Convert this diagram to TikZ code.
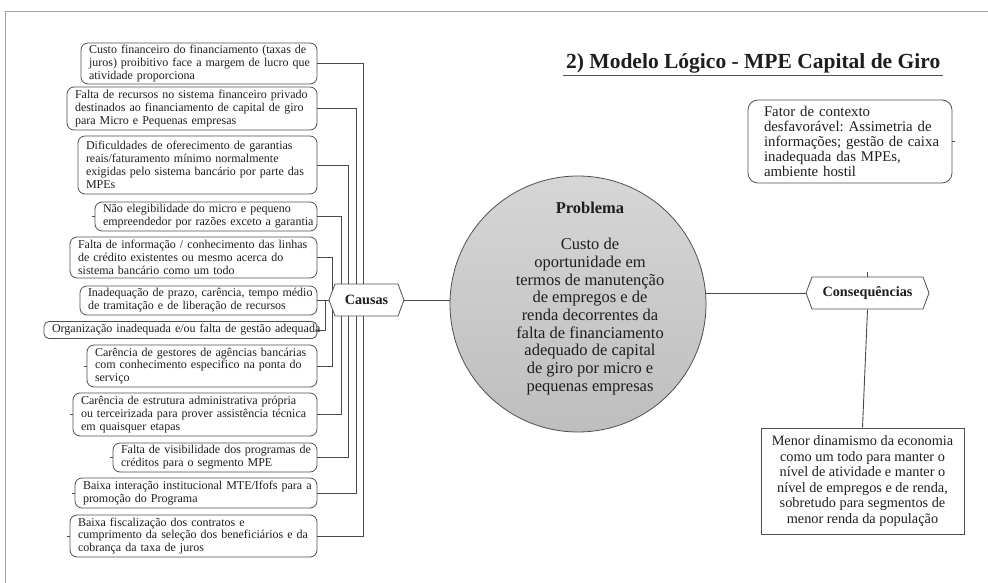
\documentclass[tikz,border=0pt]{standalone}
\usepackage{fontspec}
\setmainfont{Liberation Serif}
\usetikzlibrary{shapes.symbols,backgrounds}
\definecolor{boxc}{HTML}{505050}
\definecolor{linec}{HTML}{4A4A4A}
\definecolor{txtc}{HTML}{1E1E1E}
\definecolor{ctop}{HTML}{D6D6D6}
\definecolor{cbot}{HTML}{BEBEBE}
\definecolor{framec}{HTML}{A0A0A0}
\frenchspacing
\begin{document}
\begin{tikzpicture}[x=1pt,y=-1pt,
  cbox/.style={draw=boxc, line width=0.8pt, rounded corners=7pt, inner xsep=8pt, inner ysep=0pt,
    align=left, text=txtc, font=\fontsize{12}{12.8}\selectfont},
  conn/.style={draw=linec, line width=0.9pt},
  hexa/.style={signal, signal to=west and east, signal pointer angle=139, draw=boxc, fill=white,
    line width=0.8pt, inner sep=0pt, text=txtc, font=\bfseries\fontsize{14.2}{16}\selectfont},
]
\useasboundingbox (0,0) rectangle (988,583);
% frame
\coordinate (fA) at (5,583);
\coordinate (fB) at (5,11);
\coordinate (fC) at (988,11);
\draw[framec, line width=0.8pt] (fA) -- (fB) -- (fC);

% title
\node[anchor=base west, inner xsep=3pt, inner ysep=0pt, text=txtc, font=\bfseries\fontsize{21.5}{24}\selectfont] (title) at (563,69) {2) Modelo Lógico - MPE Capital de Giro};
\draw[boxc, line width=1.3pt] ([yshift=-6.5pt]title.base west) -- ([yshift=-6.5pt]title.base east);

% left boxes
\node[cbox, minimum width=236pt, minimum height=41pt, text width=220pt] (b1) at (199,63.5)
  {\mbox{Custo financeiro do financiamento (taxas de}\\\mbox{juros) proibitivo face a margem de lucro que}\\\mbox{atividade proporciona}};
\node[cbox, minimum width=250pt, minimum height=43pt, text width=234pt] (b2) at (192,108.5)
  {\mbox{Falta de recursos no sistema financeiro privado}\\\mbox{destinados ao financiamento de capital de giro}\\\mbox{para Micro e Pequenas empresas}};
\node[cbox, minimum width=239pt, minimum height=58pt, text width=223pt] (b3) at (197.5,165)
  {\mbox{Dificuldades de oferecimento de garantias}\\\mbox{reais/faturamento mínimo normalmente}\\\mbox{exigidas pelo sistema bancário por parte das}\\\mbox{MPEs}};
\node[cbox, minimum width=222pt, minimum height=29pt, text width=206pt] (b4) at (206,216.5)
  {\mbox{Não elegibilidade do micro e pequeno}\\\mbox{empreendedor por razões exceto a garantia}};
\node[cbox, minimum width=247pt, minimum height=41pt, text width=231pt] (b5) at (193.5,257.5)
  {\mbox{Falta de informação / conhecimento das linhas}\\\mbox{de crédito existentes ou mesmo acerca do}\\\mbox{sistema bancário como um todo}};
\node[cbox, minimum width=237pt, minimum height=29pt, text width=221pt] (b6) at (198.5,300.5)
  {\mbox{Inadequação de prazo, carência, tempo médio}\\\mbox{de tramitação e de liberação de recursos}};
\node[cbox, rounded corners=5pt, minimum width=273pt, minimum height=17pt, text width=257pt] (b7) at (180.5,330)
  {\mbox{Organização inadequada e/ou falta de gestão adequada}};
\node[cbox, minimum width=230pt, minimum height=42pt, text width=214pt] (b8) at (202,366)
  {\mbox{Carência de gestores de agências bancárias}\\\mbox{com conhecimento especifico na ponta do}\\\mbox{serviço}};
\node[cbox, minimum width=244pt, minimum height=43pt, text width=228pt] (b9) at (195,414.5)
  {\mbox{Carência de estrutura administrativa própria}\\\mbox{ou terceirizada para prover assistência técnica}\\\mbox{em quaisquer etapas}};
\node[cbox, minimum width=204pt, minimum height=29pt, text width=188pt] (b10) at (215,457.5)
  {\mbox{Falta de visibilidade dos programas de}\\\mbox{créditos para o segmento MPE}};
\node[cbox, minimum width=242pt, minimum height=30pt, text width=226pt] (b11) at (196,493)
  {\mbox{Baixa interação institucional MTE/Ifofs para a}\\\mbox{promoção do Programa}};
\node[cbox, minimum width=247pt, minimum height=42pt, text width=231pt] (b12) at (193.5,536)
  {\mbox{Baixa fiscalização dos contratos e}\\\mbox{cumprimento da seleção dos beneficiários e da}\\\mbox{cobrança da taxa de juros}};

% Causas hexagon
\node[hexa, minimum width=75pt, minimum height=32pt] (causas) at (366.5,300) {Causas};

% bus coordinates
\coordinate (busA) at (363,0);
\coordinate (busB) at (356,0);
\coordinate (busC) at (348,0);
\coordinate (busD) at (341,0);
\coordinate (busE) at (332,0);
\coordinate (busF) at (325,0);

\begin{scope}[on background layer]
\draw[conn] (b1.east) -| (busA |- causas.center);
\draw[conn] (b2.east) -| (busB |- causas.center);
\draw[conn] (b3.east) -| (busC |- causas.center);
\draw[conn] (b4.east) -| (busD |- causas.center);
\draw[conn] (b5.east) -| (busE |- b8.east) -- (b8.east);
\draw[conn] (b6.east) -- (b6.east -| causas.west);
\draw[conn] (b7.east) -| (busF |- b6.east);
\draw[conn] (b9.east) -| (busD |- causas.center);
\draw[conn] (b10.east) -| (busC |- causas.center);
\draw[conn] (b11.east) -| (busB |- causas.center);
\draw[conn] (b12.east) -| (busA |- causas.center);
\end{scope}

% small stubs at box left sides
\draw[conn] (b4.west) -- ++(-2.5,0);
\draw[conn] (b8.west) -- ++(-2.5,0);
\draw[conn] (b9.west) -- ++(-2.5,0);
\draw[conn] (b10.west) -- ++(-2.5,0);
\draw[conn] (b11.west) -- ++(-2.5,0);
\draw[conn] (b12.west) -- ++(-2.5,0);

% central problem circle
\node[circle, draw=boxc, line width=0.8pt, top color=ctop, bottom color=cbot, minimum size=256pt, inner sep=0pt] (circ) at (578,304) {};
\node[anchor=north, align=center, inner sep=0pt, text=txtc, font=\fontsize{16.5}{17.7}\selectfont] (probtxt) at (590,202)
  {\textbf{Problema}\\[18.3pt]Custo de\\oportunidade em\\termos de manutenção\\de empregos e de\\renda decorrentes da\\falta de financiamento\\adequado de capital\\de giro por micro e\\pequenas empresas};

\draw[conn] (causas.east) -- (causas.east -| circ.west);

% Consequencias
\node[hexa, minimum width=123pt, minimum height=32pt] (cons) at (867.5,293) {Consequências};
\draw[conn] (cons.west) -- (cons.west -| circ.east);
\draw[conn] (cons.north) -- ++(0,-5);

% context factor
\node[draw=boxc, line width=0.8pt, rounded corners=10pt, minimum width=204pt, minimum height=83pt,
  inner xsep=16pt, inner ysep=0pt, text width=172pt, align=left, text=txtc,
  font=\fontsize{14.8}{15}\selectfont] (fator) at (850,141.5)
  {\mbox{Fator de contexto}\\\mbox{desfavorável: Assimetria de}\\\mbox{informações; gestão de caixa}\\\mbox{inadequada das MPEs,}\\\mbox{ambiente hostil}};
\draw[conn] (fator.east) -- ++(3,0);

% consequence box
\node[draw=boxc, line width=0.8pt, minimum width=203pt, minimum height=106pt, inner sep=0pt,
  align=center, text=txtc, font=\fontsize{14.3}{15.6}\selectfont] (menor) at (862.5,481)
  {Menor dinamismo da economia\\como um todo para manter o\\nível de atividade e manter o\\nível de empregos e de renda,\\sobretudo para segmentos de\\menor renda da população};
\draw[conn] (cons.south) -- (menor.north);
\end{tikzpicture}
\end{document}
